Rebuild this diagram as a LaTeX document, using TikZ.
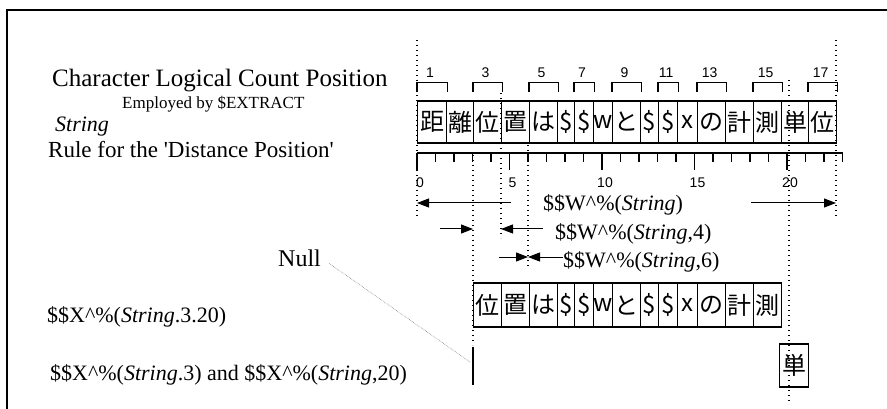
\documentclass[tikz,border=0pt]{standalone}
\usepackage{fontspec}
\setmainfont{Liberation Serif}
\setsansfont{Liberation Sans}
\newfontfamily\cjk{Noto Sans CJK JP}
\usetikzlibrary{arrows.meta,calc}
\tikzset{
  chbox/.style={draw,line width=1.1pt,anchor=west,minimum height=42,inner sep=0pt,font=\cjk\fontsize{24}{24}\selectfont},
  lbl/.style={anchor=base west,inner sep=0pt,font=\fontsize{22}{26}\selectfont},
  numlbl/.style={inner sep=0pt,font=\sffamily\fontsize{14}{14}\selectfont},
  guide/.style={line width=1.4pt,dash pattern=on 1.4pt off 3.6pt},
  arr/.style={line width=1pt,-{Triangle[length=12pt,width=9pt]}},
}
\def\charlist{1/417/446/距,2/446/473/離,3/473/501/位,4/501/529/置,5/529/557/は,
  6/557/574/\$,7/574/593/\$,8/593/612/w,9/612/640/と,10/640/658/\$,11/658/677/\$,
  12/677/697/x,13/697/725/の,14/725/753/計,15/753/781/測,16/781/808/単,17/808/836/位}

\begin{document}
\begin{tikzpicture}[x=1pt,y=-1pt]
\useasboundingbox (0,0) rectangle (887,409);
\draw[line width=1.5pt] (7,409) -- (7,10) -- (887,10);

% left column
\node[lbl,font=\fontsize{25}{28}\selectfont] (clc) at (52,87) {Character Logical Count Position};
\node[lbl,font=\fontsize{17}{20}\selectfont] (emp) at (122,109) {Employed by \$EXTRACT};
\node[lbl] (str) at (55,132) {\textit{String}};
\node[lbl,font=\fontsize{23}{26}\selectfont] (rule) at (48,158) {Rule for the \textquotesingle Distance Position\textquotesingle};
\node[lbl,font=\fontsize{24}{26}\selectfont] (null) at (278,266) {Null};
\node[lbl] (xa) at (47,322) {\$\$X\textasciicircum\%(\textit{String}.3.20)};
\node[lbl] (xb) at (50,380) {\$\$X\textasciicircum\%(\textit{String}.3) and \$\$X\textasciicircum\%(\textit{String},20)};

% the string, and the part that $$X^% returns
\foreach \i/\l/\r/\c in \charlist {
  \node[chbox,minimum width=\r-\l] (t\i) at (\l,122) {\c};
  \ifnum\i>2 \ifnum\i<16
    \node[chbox,minimum width=\r-\l,minimum height=44] (s\i) at (\l,305) {\c};
  \fi\fi
}
\node[chbox,minimum width=29,minimum height=43] (u16) at (779,365.5) {単};

% count positions
\foreach \i in {1,3,...,17} {
  \draw[line width=1.1pt] ([yshift=8pt]t\i.north west) -- ++(0,-10) -| ([yshift=8pt]t\i.north east);
  \node[numlbl,anchor=south] (n\i) at ([xshift=-2pt,yshift=23pt]t\i.north) {\i};
}

% ruler
\draw[line width=1.1pt] (417,153) -- (842.5,153);
\foreach \k in {0,...,23} {
  \pgfmathsetmacro\tl{ifthenelse(mod(\k,5)==0,170,162)}
  \draw[line width=1.1pt] ({417+18.5*\k},153) -- ({417+18.5*\k},\tl);
}
\foreach \k in {0,5,...,20}
  \node[numlbl] (r\k) at ({420+18.5*\k},183) {\k};

% guides
\coordinate (g0) at (417,40);
\coordinate (g3) at (473,155);
\coordinate (g4) at (501,93);
\coordinate (g6) at (528,145);
\coordinate (g20) at (789,80);
\coordinate (g22) at (836,40);
\draw[guide] (g0) -- (417,218);
\draw[guide] (g3) -- (473,345);
\draw[guide] (g4) -- (501,238);
\draw[guide] (g6) -- (528,267);
\draw[guide] (g20) -- (789,402);
\draw[guide] (g22) -- (836,218);

% $$W^% results
\node[lbl] (w1) at (543,211) {\$\$W\textasciicircum\%(\textit{String})};
\node[lbl] (w2) at (555,240) {\$\$W\textasciicircum\%(\textit{String},4)};
\node[lbl] (w3) at (563,267) {\$\$W\textasciicircum\%(\textit{String},6)};
\coordinate (a1) at (511,203);
\coordinate (a2) at (751,203);
\coordinate (b1) at (440,229);
\coordinate (b2) at (543,229);
\coordinate (c1) at (499,257);
\draw[arr] (a1) -- (a1 -| g0);
\draw[arr] (a2) -- (a2 -| g22);
\draw[arr] (b1) -- (b1 -| g3);
\draw[arr] (b2) -- (b2 -| g4);
\draw[arr] (c1) -- (c1 -| g6);
\draw[arr] (c1 -| w3.west) -- (c1 -| g6);

% null result
\draw[line width=2pt] (473,347) -- (473,385);
\coordinate (nend) at (470,362);
\draw[gray,line width=0.6pt,densely dotted,shorten <=10pt] (null.east) -- (nend);
\end{tikzpicture}
\end{document}
